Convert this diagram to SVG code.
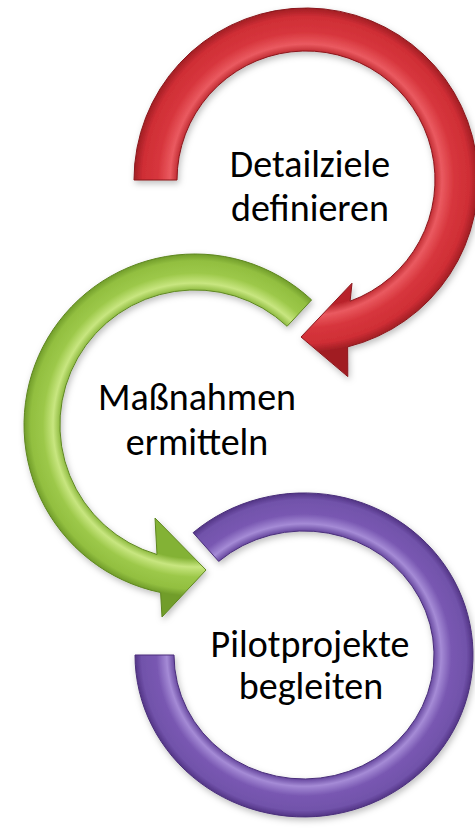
<svg xmlns="http://www.w3.org/2000/svg" width="475" height="828" viewBox="0 0 475 828">
  <defs>
    <filter id="shadow" x="-10%" y="-10%" width="120%" height="120%">
      <feDropShadow dx="1.5" dy="3" stdDeviation="3" flood-color="#000" flood-opacity="0.25"/>
    </filter>
    <radialGradient id="gRed" gradientUnits="userSpaceOnUse" cx="306" cy="180" r="172">
      <stop offset="0.74" stop-color="#B8232A"/>
      <stop offset="0.79" stop-color="#EA5A60"/>
      <stop offset="0.86" stop-color="#D7363D"/>
      <stop offset="0.95" stop-color="#CF2E35"/>
      <stop offset="1" stop-color="#A11E24"/>
    </radialGradient>
    <radialGradient id="gGreen" gradientUnits="userSpaceOnUse" cx="195" cy="425" r="171">
      <stop offset="0.78" stop-color="#83B234"/>
      <stop offset="0.83" stop-color="#C8E680"/>
      <stop offset="0.89" stop-color="#9CC849"/>
      <stop offset="0.96" stop-color="#92BF40"/>
      <stop offset="1" stop-color="#719D2A"/>
    </radialGradient>
    <radialGradient id="gPurple" gradientUnits="userSpaceOnUse" cx="304" cy="655" r="166" gradientTransform="translate(304 655) scale(1.02 0.976) translate(-304 -655)">
      <stop offset="0.76" stop-color="#5F3F98"/>
      <stop offset="0.81" stop-color="#A58BD6"/>
      <stop offset="0.87" stop-color="#7958B2"/>
      <stop offset="0.96" stop-color="#7152AA"/>
      <stop offset="1" stop-color="#523485"/>
    </radialGradient>
    <style>
      .lbl { font-family: Carlito, Calibri, Lato, "Open Sans", sans-serif; font-size: 38px; fill: #000; text-anchor: middle; }
      .arrow { filter: url(#shadow); stroke-width: 1; stroke-linejoin: round; }
    </style>
  </defs>
  <rect width="475" height="828" fill="#fff"/>

  <g id="node-pilotprojekte">
    <path class="arrow" fill="url(#gPurple)" stroke="#4A2F7A"
      d="M 193.1 532.7 A 169 162 0 1 1 135 655 L 174 655 A 130 124 0 1 0 218.7 561.4 Z"/>
    <text class="lbl" x="310" y="657">Pilotprojekte</text>
    <text class="lbl" x="311" y="699">begleiten</text>
  </g>

  <g id="node-massnahmen">
    <path class="arrow" fill="url(#gGreen)" stroke="#5E8620"
      d="M 311.6 299.9 A 171 171 0 1 0 160.6 592.5 L 162 617 L 206 570 L 155 518 L 157 554.5 A 135 135 0 1 1 287.1 326.3 Z"/>
    <text class="lbl" x="197" y="410">Maßnahmen</text>
    <text class="lbl" x="197" y="455">ermitteln</text>
  </g>

  <g id="node-detailziele">
    <path class="arrow" fill="url(#gRed)" stroke="#8A171C"
      d="M 134 180 A 172 172 0 1 1 347.6 346.9 L 347.8 376.6 L 301 337 L 352 283.2 L 350.1 301.2 A 129 129 0 1 0 177 180 Z"/>
    <text class="lbl" x="310" y="177">Detailziele</text>
    <text class="lbl" x="310" y="221">definieren</text>
  </g>

  <g id="connectors"/>
</svg>
